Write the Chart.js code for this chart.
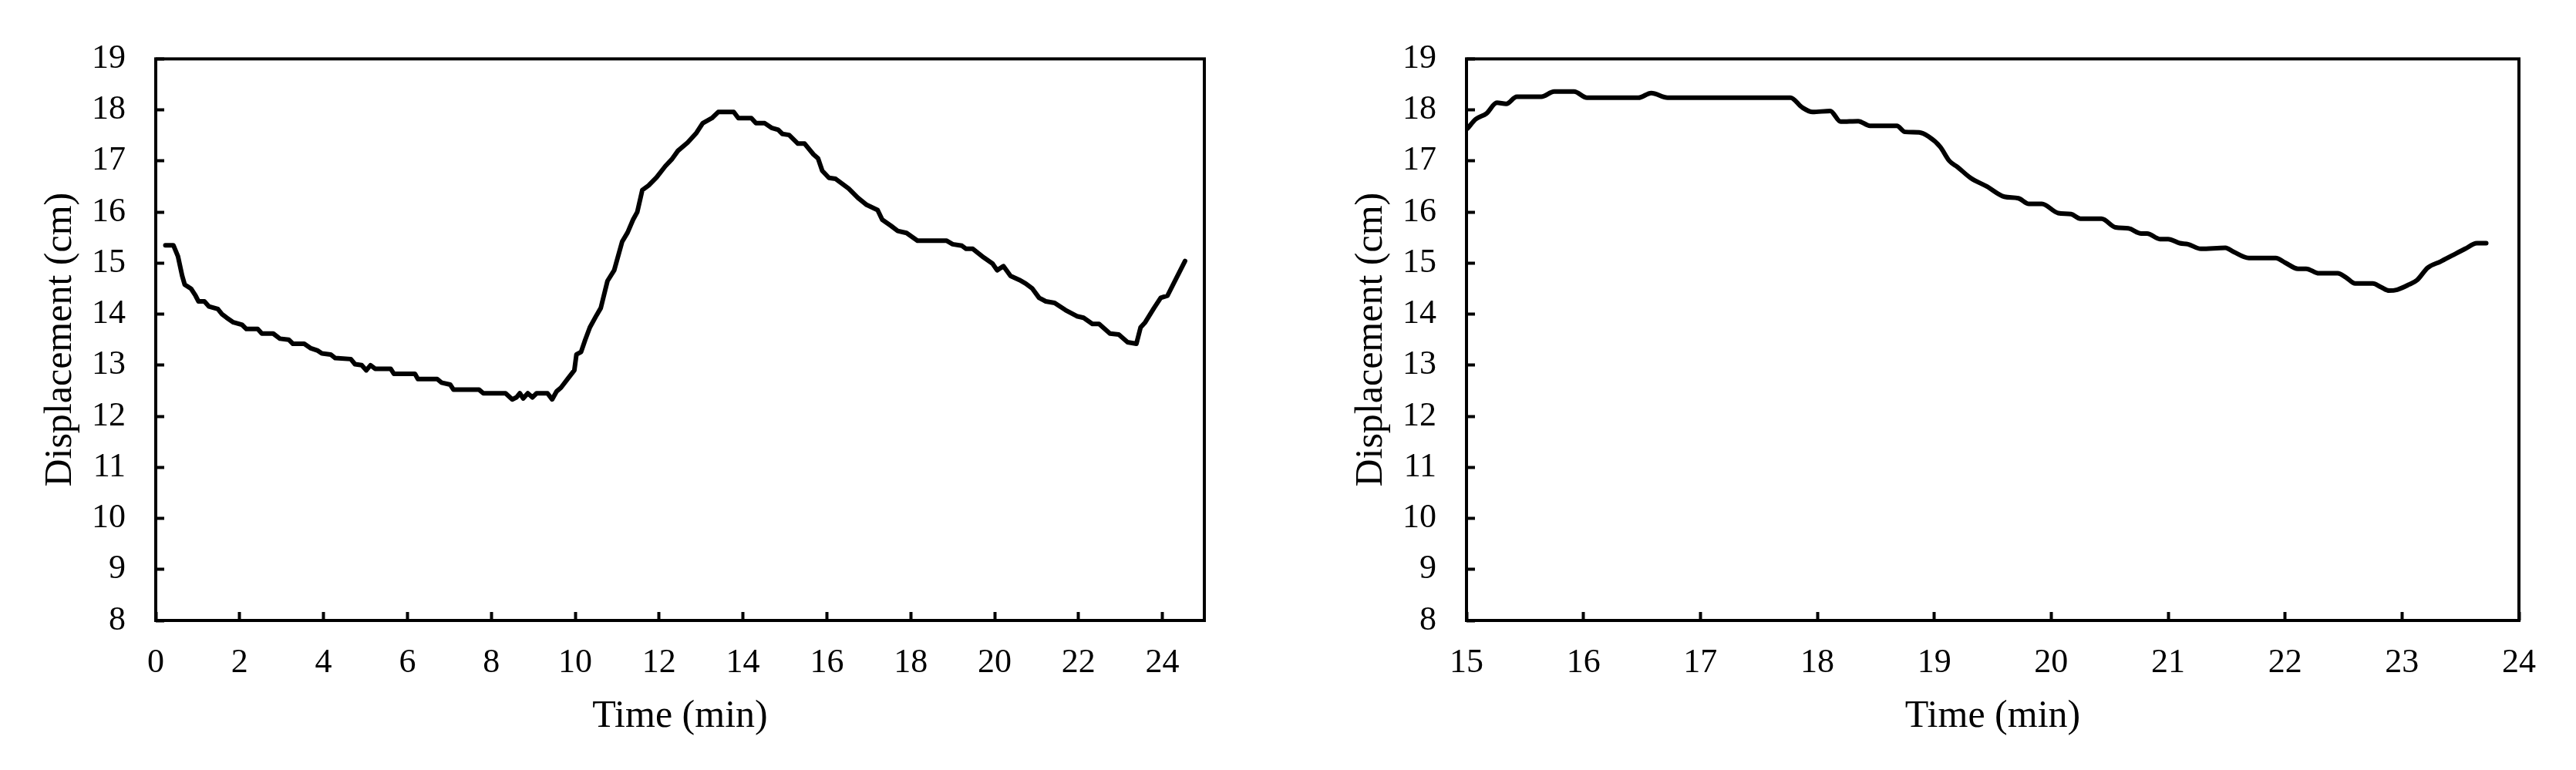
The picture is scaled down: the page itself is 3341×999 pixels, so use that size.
<!DOCTYPE html>
<html>
<head>
<meta charset="utf-8">
<script src="https://cdn.jsdelivr.net/npm/chart.js@4.4.0/dist/chart.umd.min.js"></script>
<style>
    body { margin: 0; background: #fff; width: 3341px; height: 999px; overflow: hidden; }
    canvas { position: absolute; top: 0; }
    #leftChart { left: 0; }
    #rightChart { left: 1700px; }
</style>
</head>
<body>
<canvas id="leftChart" width="1700" height="999"></canvas>
<canvas id="rightChart" width="1641" height="999"></canvas>
<script>
// ---- data ----
// left panel: whole run
const leftTime = [0.23, 0.42, 0.53, 0.63, 0.69, 0.84, 0.95, 1.02, 1.16, 1.27, 1.48, 1.58, 1.69, 1.85, 2.06, 2.16, 2.43, 2.53, 2.8, 2.96,
    3.17, 3.27, 3.54, 3.7, 3.85, 3.96, 4.17, 4.28, 4.65, 4.75, 4.91, 5.02, 5.12, 5.23, 5.6, 5.68, 6.18, 6.25, 6.71, 6.81,
    7.02, 7.1, 7.71, 7.81, 8.34, 8.5, 8.6, 8.68, 8.76, 8.87, 8.98, 9.08, 9.34, 9.45, 9.56, 9.66, 9.82, 9.98, 10.03, 10.14,
    10.24, 10.35, 10.51, 10.61, 10.77, 10.93, 11.12, 11.25, 11.38, 11.48, 11.6, 11.75, 11.94, 12.15, 12.3, 12.45, 12.68, 12.89, 13.04, 13.26,
    13.41, 13.78, 13.89, 14.2, 14.31, 14.52, 14.68, 14.84, 14.94, 15.1, 15.31, 15.47, 15.68, 15.79, 15.89, 16.05, 16.21, 16.52, 16.74, 16.95,
    17.21, 17.32, 17.53, 17.69, 17.9, 18.16, 18.85, 19.0, 19.22, 19.32, 19.48, 19.74, 19.95, 20.06, 20.21, 20.38, 20.59, 20.74, 20.9, 21.06,
    21.22, 21.43, 21.69, 21.96, 22.12, 22.33, 22.49, 22.75, 22.96, 23.17, 23.38, 23.48, 23.59, 23.8, 23.96, 24.12, 24.33, 24.54];
const leftDisp = [15.35, 15.35, 15.13, 14.75, 14.58, 14.5, 14.36, 14.25, 14.25, 14.15, 14.1, 14.0, 13.93, 13.84, 13.79, 13.71, 13.71, 13.62, 13.62, 13.52,
    13.5, 13.42, 13.42, 13.33, 13.29, 13.23, 13.21, 13.14, 13.12, 13.02, 13.0, 12.9, 13.0, 12.93, 12.93, 12.83, 12.83, 12.73, 12.73, 12.66,
    12.62, 12.52, 12.52, 12.45, 12.45, 12.33, 12.37, 12.45, 12.35, 12.45, 12.37, 12.45, 12.45, 12.33, 12.49, 12.56, 12.73, 12.9, 13.21, 13.26,
    13.5, 13.74, 13.98, 14.12, 14.65, 14.86, 15.42, 15.6, 15.85, 16.0, 16.43, 16.52, 16.68, 16.9, 17.03, 17.2, 17.36, 17.55, 17.74, 17.84,
    17.96, 17.96, 17.84, 17.84, 17.74, 17.74, 17.65, 17.61, 17.53, 17.51, 17.34, 17.34, 17.13, 17.05, 16.81, 16.67, 16.65, 16.46, 16.28, 16.14,
    16.04, 15.85, 15.73, 15.63, 15.59, 15.44, 15.44, 15.37, 15.34, 15.28, 15.28, 15.11, 14.99, 14.86, 14.94, 14.75, 14.67, 14.6, 14.5, 14.32,
    14.25, 14.22, 14.08, 13.96, 13.93, 13.81, 13.81, 13.62, 13.6, 13.45, 13.42, 13.74, 13.84, 14.12, 14.32, 14.36, 14.7, 15.04];

// right panel: 15-24 min
const rightTime = [15.01, 15.08, 15.17, 15.26, 15.34, 15.43, 15.64, 15.75, 15.92, 16.03, 16.47, 16.58, 16.72, 17.77, 17.87, 17.96, 18.11, 18.2, 18.35, 18.45,
    18.68, 18.75, 18.87, 18.95, 19.05, 19.13, 19.2, 19.31, 19.45, 19.6, 19.72, 19.81, 19.92, 20.06, 20.17, 20.25, 20.43, 20.55, 20.66, 20.77,
    20.82, 20.93, 21.0, 21.1, 21.17, 21.28, 21.49, 21.56, 21.69, 21.92, 22.0, 22.11, 22.18, 22.29, 22.45, 22.52, 22.6, 22.75, 22.82, 22.89,
    22.96, 23.06, 23.13, 23.22, 23.33, 23.43, 23.54, 23.64, 23.72];
const rightDisp = [17.64, 17.82, 17.93, 18.14, 18.12, 18.26, 18.26, 18.36, 18.36, 18.24, 18.24, 18.33, 18.24, 18.24, 18.05, 17.96, 17.98, 17.77, 17.78, 17.69,
    17.69, 17.57, 17.56, 17.48, 17.28, 17.0, 16.88, 16.67, 16.5, 16.3, 16.27, 16.16, 16.16, 15.98, 15.96, 15.87, 15.87, 15.7, 15.68, 15.58,
    15.58, 15.47, 15.47, 15.39, 15.37, 15.28, 15.3, 15.22, 15.1, 15.1, 15.01, 14.89, 14.89, 14.8, 14.8, 14.72, 14.6, 14.6, 14.53, 14.46,
    14.48, 14.58, 14.67, 14.91, 15.03, 15.15, 15.28, 15.39, 15.39];

// tick values
const leftTimeTicks = [0, 2, 4, 6, 8, 10, 12, 14, 16, 18, 20, 22, 24];
const rightTimeTicks = [15, 16, 17, 18, 19, 20, 21, 22, 23, 24];
const dispTicks = [8, 9, 10, 11, 12, 13, 14, 15, 16, 17, 18, 19];

const FONT = '"Liberation Serif", "Times New Roman", serif';

// full box round the plot area
const frameBox = {
    id: 'frameBox',
    afterDraw(chart) {
        const { ctx, chartArea: a } = chart;
        ctx.save();
        ctx.strokeStyle = '#000';
        ctx.lineWidth = 4;
        ctx.strokeRect(a.left, a.top, a.right - a.left, a.bottom - a.top);
        ctx.restore();
    }
};

function makeChart(canvasId, time, disp, xTicks, xMin, xMax, pad, smooth) {
    const ctx = document.getElementById(canvasId).getContext('2d');
    return new Chart(ctx, {
        type: 'line',
        data: {
            datasets: [{
                data: time.map((t, i) => ({ x: t, y: disp[i] })),
                borderColor: '#000',
                borderWidth: 6,
                pointRadius: 0,
                fill: false,
                tension: 0,
                cubicInterpolationMode: smooth ? 'monotone' : 'default',
                borderJoinStyle: 'round',
                borderCapStyle: 'round'
            }]
        },
        options: {
            responsive: false,
            animation: false,
            events: [],
            layout: { padding: pad },
            plugins: {
                legend: { display: false },
                tooltip: { enabled: false }
            },
            scales: {
                x: {
                    type: 'linear',
                    min: xMin,
                    max: xMax,
                    afterBuildTicks: s => { s.ticks = xTicks.map(v => ({ value: v })); },
                    afterFit: s => { s.height = 194; },
                    ticks: { color: '#000', font: { family: FONT, size: 44 }, padding: 40, maxRotation: 0, autoSkip: false },
                    grid: { drawOnChartArea: false, tickLength: -11, tickWidth: 4, tickColor: '#000' },
                    border: { display: false },
                    title: { display: true, text: 'Time (min)', color: '#000', font: { family: FONT, size: 50 }, padding: { top: 0, bottom: 39 } }
                },
                y: {
                    type: 'linear',
                    min: 8,
                    max: 19,
                    afterBuildTicks: s => { s.ticks = dispTicks.map(v => ({ value: v })); },
                    afterFit: s => { s.width = 202; },
                    ticks: { color: '#000', font: { family: FONT, size: 44 }, padding: 50 },
                    grid: { drawOnChartArea: false, tickLength: -11, tickWidth: 4, tickColor: '#000' },
                    border: { display: false },
                    title: { display: true, text: 'Displacement (cm)', color: '#000', font: { family: FONT, size: 50 }, padding: { top: 49, bottom: 0 } }
                }
            }
        },
        plugins: [frameBox]
    });
}

makeChart('leftChart', leftTime, leftDisp, leftTimeTicks, 0, 25, { top: 74, right: 138, left: 0, bottom: 0 }, false);
makeChart('rightChart', rightTime, rightDisp, rightTimeTicks, 15, 24, { top: 72, right: 74, left: 0, bottom: 0 }, true);
</script>
</body>
</html>
